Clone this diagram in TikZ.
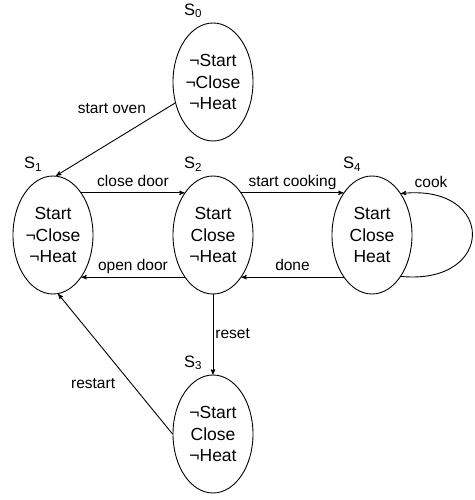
\documentclass[tikz,border=0pt]{standalone}
\usepackage{fontspec}
\setmainfont{Liberation Sans}
\usetikzlibrary{arrows,shapes}
\tikzstyle{statebox} = [draw, ellipse, minimum width=80pt, minimum height=118pt, inner sep=0pt, align=center, font=\fontsize{17.5}{21.5}\selectfont]
\tikzstyle{statelabel} = [font=\fontsize{16.5}{18}\selectfont, xshift=-20pt, inner sep=1pt, label distance=3pt]
\tikzstyle{edgelabel} = [font=\fontsize{15.5}{18}\selectfont, inner sep=2pt, text height=11pt, text depth=4pt]

\begin{document}
\begin{tikzpicture}[node distance=160pt, >=stealth', line width=0.9pt, x=1pt, y=1pt]
        \useasboundingbox (-213,235) rectangle (261,-265);
        \path[] node[statebox, label={[statelabel]above:S\textsubscript{2}}] (s2) {Start\\Close\\¬Heat};
        \path[] node[statebox, left of=s2, label={[statelabel]above:S\textsubscript{1}}] (s1) {Start\\¬Close\\¬Heat};
        \path[] node[statebox, right of=s2, node distance=159pt, label={[statelabel]above:S\textsubscript{4}}] (s4) {Start\\Close\\Heat};
        \path[] node[statebox, above of=s2, node distance=153pt, label={[statelabel]above:S\textsubscript{0}}] (s0) {¬Start\\¬Close\\¬Heat};
        \path[] node[statebox, below of=s2, node distance=199pt, label={[statelabel]above:S\textsubscript{3}}] (s3) {¬Start\\Close\\¬Heat};
        \path[->] (s0.209) edge node[edgelabel, pos=.09, left=16pt] {start oven} (s1.87);
        \path[->] (s1.56) edge node[edgelabel, above] {close door} (s2.124);
        \path[->] (s2.56) edge node[edgelabel, above] {start cooking} (s4.124);
        \path[->] (s2.236) edge node[edgelabel, above] {open door} (s1.-56);
        \path[->] (s4.236) edge node[edgelabel, above] {done} (s2.-56);
        \path[->] (s2) edge node[edgelabel, right] {reset} (s3);
        \path[->] (s3.west) edge node[edgelabel, pos=.35, left=15pt] {restart} (s1.-85);
        \draw[->] (s4.-55) .. controls +(95,-9) and +(95,10) .. node[edgelabel, pos=.88, above] {cook} (s4.55);
      \end{tikzpicture}
\end{document}
